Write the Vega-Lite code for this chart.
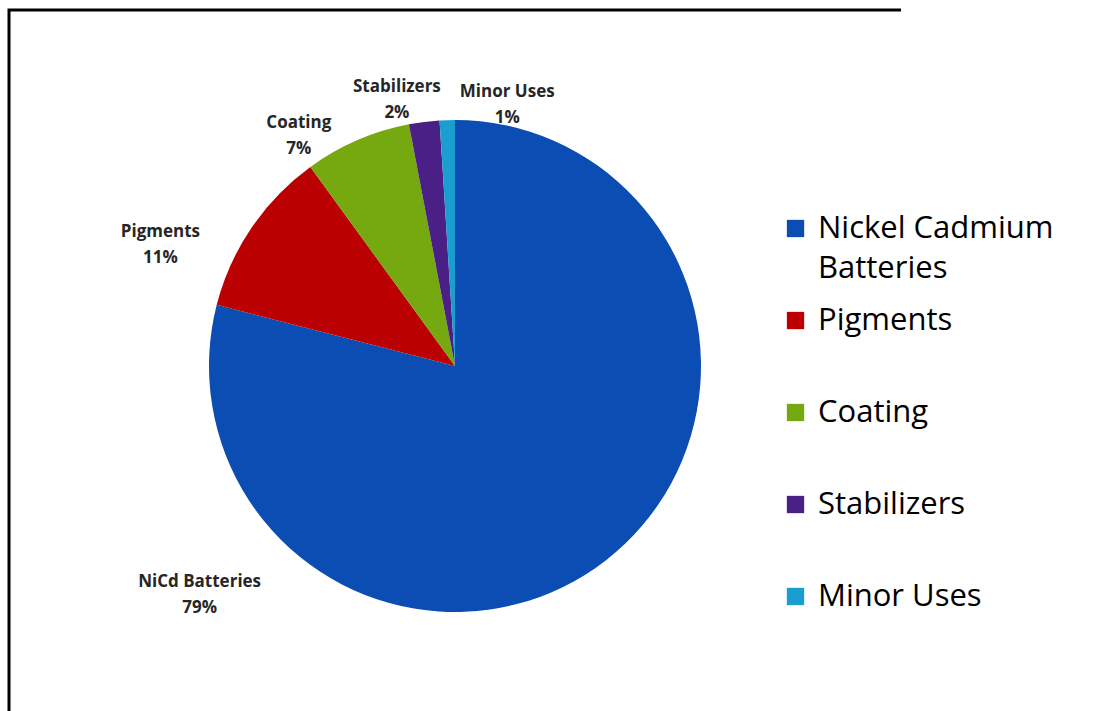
{
  "$schema": "https://vega.github.io/schema/vega-lite/v6.json",
  "width": 892,
  "height": 712,
  "autosize": "none",
  "padding": {"left": 9, "top": 10, "right": 198, "bottom": 0},
  "background": "white",
  "view": {"stroke": "black", "strokeWidth": 3, "strokeDash": [892, 712, 1604]},
  "config": {
    "view": {"stroke": "black", "strokeWidth": 3, "strokeDash": [892, 712, 1604]},
    "style": {"guide-label": {"lineHeight": 40}}
  },
  "data": {"values": [
    {"category": "NiCd Batteries", "legend": "Nickel Cadmium Batteries", "pct": 79},
    {"category": "Pigments", "legend": "Pigments", "pct": 11},
    {"category": "Coating", "legend": "Coating", "pct": 7},
    {"category": "Stabilizers", "legend": "Stabilizers", "pct": 2},
    {"category": "Minor Uses", "legend": "Minor Uses", "pct": 1}
  ]},
  "encoding": {
    "theta": {"field": "pct", "type": "quantitative", "stack": true},
    "order": {"field": "pct", "sort": "descending"}
  },
  "layer": [
    {
      "mark": {"type": "arc", "radius": 246},
      "encoding": {
        "color": {
          "field": "legend",
          "type": "nominal",
          "scale": {
            "domain": ["Nickel Cadmium Batteries", "Pigments", "Coating", "Stabilizers", "Minor Uses"],
            "range": ["#0B4DB3", "#BA0000", "#76A80F", "#4A1F86", "#1A9ECF"]
          },
          "legend": {
            "title": null,
            "orient": "none",
            "legendX": 771,
            "legendY": 203,
            "symbolType": "square",
            "symbolSize": 300,
            "symbolStrokeWidth": 0,
            "symbolOpacity": 1,
            "labelFont": "Open Sans",
            "labelFontSize": 31,
            "labelColor": "black",
            "labelOffset": 7,
            "labelLimit": 0,
            "rowPadding": 20,
            "labelExpr": "datum.label == 'Nickel Cadmium Batteries' ? ['Nickel Cadmium', 'Batteries'] : [datum.label, ' ']"
          }
        }
      }
    },
    {
      "mark": {
        "type": "text",
        "radius": 280,
        "font": "Open Sans",
        "fontSize": 17,
        "fontWeight": "bold",
        "color": "#262626",
        "lineHeight": 26,
        "baseline": "middle",
        "align": "center",
        "text": {"expr": "[datum.category, datum.pct + '%']"},
        "dx": {"expr": "datum.category == 'NiCd Batteries' ? -427 : datum.category == 'Pigments' ? -63 : datum.category == 'Coating' ? -45 : datum.category == 'Stabilizers' ? -23 : 61"},
        "dy": {"expr": "datum.category == 'NiCd Batteries' ? -5 : datum.category == 'Pigments' ? 23 : datum.category == 'Coating' ? 14 : datum.category == 'Stabilizers' ? -1 : 6"}
      }
    }
  ]
}
